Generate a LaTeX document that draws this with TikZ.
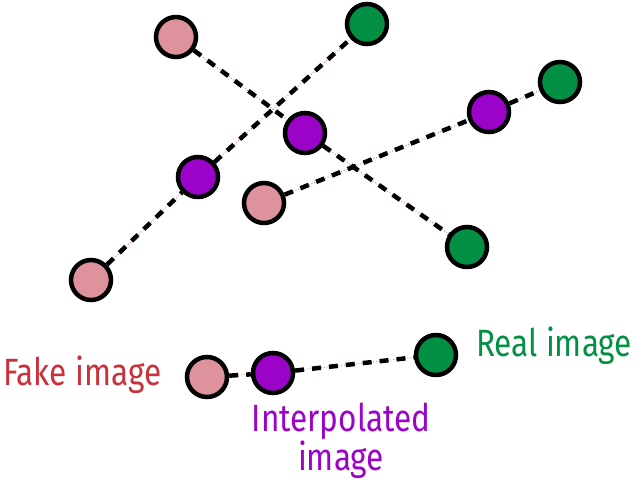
\documentclass[tikz,border=0pt]{standalone}
\usepackage{fontspec}
\setmainfont[FakeStretch=0.83]{Fira Sans}
\definecolor{fakepink}{RGB}{222,147,156}
\definecolor{interp}{RGB}{155,4,200}
\definecolor{realgreen}{RGB}{3,144,69}
\definecolor{fakered}{RGB}{200,50,60}
\definecolor{guide}{RGB}{220,120,140}
\tikzset{
  pt/.style={circle, draw=black, line width=4.5pt, minimum size=40pt, inner sep=0pt},
  fake/.style={pt, fill=fakepink},
  mid/.style={pt, fill=interp},
  real/.style={pt, fill=realgreen},
  guideline/.style={guide, line width=0.9pt, dotted},
  link/.style={black, line width=4.5pt, dash pattern=on 9pt off 8pt},
  lbl/.style={inner sep=0pt, font=\fontsize{38}{32}\selectfont}
}
\begin{document}
\begin{tikzpicture}[x=1pt,y=-1pt]
\useasboundingbox (0,0) rectangle (635,485);
% points
\node[fake] (f1) at (176,37) {};
\node[mid]  (m1) at (305,133) {};
\node[real] (r1) at (467,247) {};
\node[fake] (f2) at (91,280) {};
\node[mid]  (m2) at (198,177) {};
\node[real] (r2) at (367,24) {};
\node[fake] (f3) at (264,203) {};
\node[mid]  (m3) at (489,112) {};
\node[real] (r3) at (560,82) {};
\node[fake] (f4) at (207,377) {};
\node[mid]  (m4) at (273,373) {};
\node[real] (r4) at (436,355) {};
% connectors
\foreach \a/\b in {f1/m1,m1/r1,f2/m2,m2/r2,f3/m3,m3/r3,f4/m4,m4/r4}{
  \draw[guideline] (\a) -- (\b);
  \draw[link] (\a) -- (\b);
}
% labels
\node[lbl, text=fakered, anchor=base west] (tf) at (3,385) {Fake image};
\node[lbl, text=realgreen, anchor=base west] (tr) at (476,356) {Real image};
\node[lbl, text=interp, align=center, anchor=base] (ti) at (341,470) {Interpolated\\image};
\end{tikzpicture}
\end{document}
